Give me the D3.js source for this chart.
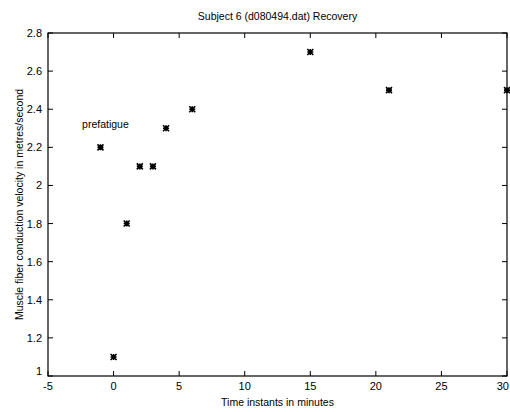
<!DOCTYPE html>
<html><head><meta charset="utf-8">
<script src="https://cdn.jsdelivr.net/npm/d3@7"></script>
<style>body{margin:0;background:#fff}text{font-family:"Liberation Sans",Arial,sans-serif;fill:#000}</style>
</head><body><svg id="c" width="510" height="412"></svg>
<script>
const timeMinutes = [-1, 0, 1, 2, 3, 4, 6, 15, 21, 30];
const velocity = [2.2, 1.1, 1.8, 2.1, 2.1, 2.3, 2.4, 2.7, 2.5, 2.5];
const xTicks = [-5, 0, 5, 10, 15, 20, 25, 30];
const yTicks = [1, 1.2, 1.4, 1.6, 1.8, 2, 2.2, 2.4, 2.6, 2.8];
const titleText = "Subject 6 (d080494.dat) Recovery";
const xLabel = "Time instants in minutes";
const yLabel = "Muscle fiber conduction velocity in metres/second";
const annotation = {text: "prefatigue", x: -1, y: 2.2};

const svg = d3.select("#c");
const L = 48, R = 507, T = 33, B = 376;
const x = d3.scaleLinear().domain([-5, 30]).range([L, R]);
const y = d3.scaleLinear().domain([1, 2.8]).range([B, T]);
const fmt = d => String(d);

svg.append("rect").attr("x", L).attr("y", T).attr("width", R - L).attr("height", B - T)
  .attr("fill", "none").attr("stroke", "#000").attr("stroke-width", 1.2);

const g = svg.append("g");
const tl = 5;
xTicks.forEach(t => {
  g.append("line").attr("x1", x(t)).attr("x2", x(t)).attr("y1", B).attr("y2", B - tl).attr("stroke", "#000");
  g.append("line").attr("x1", x(t)).attr("x2", x(t)).attr("y1", T).attr("y2", T + tl).attr("stroke", "#000");
  const last = t === xTicks[xTicks.length - 1];
  g.append("text").attr("x", last ? 509 : x(t)).attr("y", B + 14)
    .attr("text-anchor", last ? "end" : "middle").attr("font-size", 11).text(fmt(t));
});
yTicks.forEach(t => {
  g.append("line").attr("y1", y(t)).attr("y2", y(t)).attr("x1", L).attr("x2", L + tl).attr("stroke", "#000");
  g.append("line").attr("y1", y(t)).attr("y2", y(t)).attr("x1", R).attr("x2", R - tl).attr("stroke", "#000");
  g.append("text").attr("x", L - 6).attr("y", y(t) + (t === 1 ? -1 : 4)).attr("text-anchor", "end").attr("font-size", 11).text(fmt(t));
});

const s = 3;
const marker = `M${-s},${-s}L${s},${s}M${-s},${s}L${s},${-s}M0,${-s}L0,${s}M${-s},0L${s},0`;
svg.append("g").selectAll("path").data(timeMinutes.map((t, i) => [t, velocity[i]])).join("path")
  .attr("transform", d => `translate(${x(d[0])},${y(d[1])})`)
  .attr("d", marker).attr("stroke", "#000").attr("stroke-width", 1.6).attr("fill", "none");

svg.append("text").attr("x", x(annotation.x) + 5).attr("y", y(annotation.y) - 19)
  .attr("text-anchor", "middle").attr("font-size", 10.5).text(annotation.text);

svg.append("text").attr("x", (L + R) / 2).attr("y", 20).attr("text-anchor", "middle").attr("font-size", 10.5).text(titleText);
svg.append("text").attr("x", (L + R) / 2).attr("y", 406).attr("text-anchor", "middle").attr("font-size", 10.5).text(xLabel);
svg.append("text").attr("transform", `translate(23,${(T + B) / 2}) rotate(-90)`).attr("text-anchor", "middle").attr("font-size", 10.5).text(yLabel);
</script></body></html>
